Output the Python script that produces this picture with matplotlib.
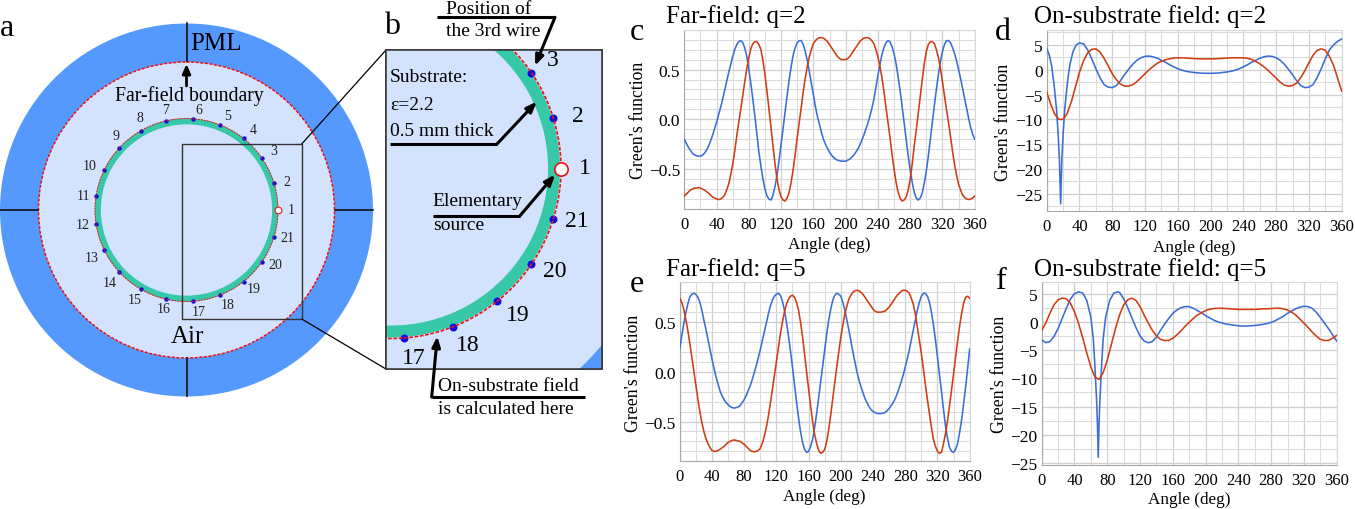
import numpy as np
import matplotlib
matplotlib.use('Agg')
import matplotlib.pyplot as plt
from matplotlib.patches import Circle, Rectangle

plt.rcParams['font.family'] = ['Liberation Serif', 'DejaVu Sans']
plt.rcParams['axes.unicode_minus'] = True

W, H = 1355, 510
BLUE = '#3a6ed6'
RED = '#d13c12'
PML = '#5599ff'
AIR = '#d3e3fd'
SUB = '#37c8a8'

ANGLES = np.arange(0, 361, 5)
ANGLES_FINE = np.arange(0, 360.1, 2.5)
X_TICKS = np.arange(0, 361, 40)

c_blue = [-.20, -.24, -.28, -.31, -.34, -.355, -.365, -.37, -.37, -.36, -.34, -.31, -.27, -.22, -.16, -.095, -.03, .045,
          .12, .20, .29, .38, .47, .55, .63, .70, .75, .78, .79, .77, .715, .63, .50, .36, .20, .03, -.15, -.33, -.47,
          -.60, -.70, -.77, -.80, -.81, -.76, -.67, -.56, -.41, -.25, -.09, .08, .24, .40, .53, .65, .72, .77, .79, .79,
          .75, .68, .59, .48, .36, .25, .13, .03, -.05, -.13, -.20, -.25, -.29, -.33, -.36, -.38, -.40, -.41, -.415, -.42,
          -.42, -.42, -.41, -.40, -.38, -.36, -.33, -.30, -.26, -.21, -.16, -.10, -.04, .03, .11, .20, .32, .44, .55, .65,
          .72, .77, .79, .78, .73, .66, .56, .43, .29, .13, -.03, -.20, -.36, -.51, -.63, -.73, -.79, -.81, -.79, -.74,
          -.64, -.52, -.37, -.20, -.03, .14, .30, .45, .58, .68, .75, .79, .79, .77, .72, .66, .59, .50, .41, .31, .21,
          .11, .01, -.08, -.15, -.20]
c_red = [-.77, -.75, -.73, -.71, -.70, -.69, -.69, -.685, -.69, -.70, -.71, -.725, -.74, -.76, -.78, -.79, -.80, -.805,
         -.80, -.785, -.76, -.71, -.65, -.56, -.45, -.32, -.17, -.03, .10, .24, .38, .51, .62, .71, .76, .78, .78, .75,
         .70, .59, .45, .28, .10, -.09, -.27, -.45, -.60, -.71, -.78, -.81, -.82, -.79, -.73, -.63, -.50, -.35, -.18,
         -.03, .12, .28, .42, .53, .63, .70, .76, .79, .81, .82, .82, .815, .80, .78, .75, .72, .69, .66, .63, .61, .60,
         .60, .60, .61, .63, .66, .69, .72, .75, .78, .80, .815, .82, .82, .81, .79, .76, .70, .63, .53, .42, .28, .12,
         -.03, -.18, -.35, -.50, -.63, -.73, -.79, -.82, -.81, -.78, -.71, -.60, -.45, -.27, -.11, .06, .23, .40, .56,
         .68, .75, .78, .78, .76, .70, .62, .51, .38, .24, .10, -.03, -.17, -.32, -.45, -.56, -.65, -.71, -.76, -.785,
         -.80, -.805, -.80, -.79, -.77]

e_blue = [.23, .36, .48, .59, .68, .75, .78, .79, .78, .75, .70, .62, .52, .43, .33, .23, .13, .04, -.05, -.12, -.19, -.24,
          -.28, -.31, -.33, -.35, -.36, -.365, -.36, -.355, -.34, -.31, -.28, -.24, -.19, -.14, -.08, -.01, .06, .14, .22,
          .31, .40, .49, .58, .66, .72, .76, .78, .79, .77, .71, .62, .50, .36, .21, .05, -.13, -.30, -.46, -.60, -.71,
          -.78, -.81, -.80, -.75, -.68, -.56, -.42, -.26, -.10, .06, .22, .38, .52, .63, .72, .77, .79, .78, .76, .70, .62,
          .52, .42, .31, .20, .10, .0, -.08, -.15, -.21, -.27, -.31, -.35, -.38, -.40, -.41, -.42, -.42, -.42, -.415, -.41,
          -.39, -.37, -.34, -.31, -.27, -.22, -.16, -.10, -.03, .05, .13, .22, .32, .42, .52, .62, .70, .76, .79, .79, .76,
          .70, .60, .47, .32, .15, -.03, -.20, -.38, -.55, -.67, -.76, -.80, -.81, -.78, -.72, -.61, -.48, -.32, -.15, .04,
          .23]
e_red = [.74, .70, .63, .53, .42, .29, .15, .01, -.13, -.27, -.40, -.51, -.60, -.67, -.72, -.76, -.79, -.80, -.80, -.79,
         -.78, -.765, -.75, -.73, -.71, -.70, -.69, -.685, -.69, -.695, -.70, -.715, -.73, -.75, -.77, -.79, -.80, -.805,
         -.80, -.79, -.77, -.72, -.65, -.56, -.45, -.32, -.18, -.04, .10, .24, .38, .50, .60, .68, .73, .76, .77, .75, .70,
         .62, .50, .35, .18, .0, -.17, -.34, -.50, -.63, -.72, -.79, -.82, -.81, -.78, -.70, -.58, -.43, -.27, -.11, .05,
         .20, .35, .47, .58, .66, .73, .77, .80, .815, .82, .815, .80, .78, .75, .72, .69, .66, .63, .61, .60, .60, .60,
         .605, .61, .63, .65, .68, .71, .74, .77, .79, .81, .82, .82, .81, .79, .74, .68, .58, .45, .32, .18, .03, -.13,
         -.28, -.42, -.56, -.68, -.75, -.80, -.82, -.81, -.72, -.62, -.49, -.34, -.18, -.02, .15, .31, .46, .59, .69, .75,
         .76, .74]

d_blue_angles = [0, 3, 6, 9, 12, 14, 15.5, 17, 18.5, 20, 22, 25, 28, 32, 36, 40, 45, 50, 55, 60, 65, 70, 75, 80, 85, 90,
                 95, 100, 105, 110, 115, 120, 125, 130, 135, 140, 145, 150, 155, 160, 165, 170, 175, 180, 185, 190, 195,
                 200, 205, 210, 215, 220, 225, 230, 235, 240, 245, 250, 255, 260, 265, 270, 275, 280, 285, 290, 295, 300,
                 305, 310, 315, 320, 325, 330, 335, 340, 345, 350, 355, 360]
d_blue = [4.3, 3, .8, -3, -8, -13, -18, -27, -18, -13, -8, -3, .8, 3.6, 5, 5.4, 5.2, 4, 2.2, .2, -1.6, -3, -3.5, -3.6, -3.2,
          -2.2, -1, .1, 1.1, 1.9, 2.4, 2.7, 2.75, 2.6, 2.3, 1.9, 1.5, 1, .6, .2, -.1, -.3, -.45, -.55, -.65, -.7, -.72,
          -.72, -.7, -.65, -.55, -.45, -.3, -.1, .2, .6, 1, 1.5, 1.9, 2.3, 2.6, 2.75, 2.7, 2.4, 1.9, 1.1, .1, -1, -2.2,
          -3.2, -3.6, -3.5, -3, -1.6, .2, 2.2, 4, 5, 5.7, 6.2]
d_red = [-4.5, -7, -9, -10, -10, -8.8, -6.5, -3.5, -.5, 1.8, 3.4, 4.1, 4.2, 3.6, 2.3, .8, -.8, -2, -2.9, -3.3, -3.3, -3,
         -2.4, -1.6, -.8, 0, .7, 1.3, 1.7, 2, 2.2, 2.35, 2.4, 2.4, 2.35, 2.3, 2.25, 2.2, 2.2, 2.2, 2.2, 2.2, 2.25, 2.3,
         2.35, 2.4, 2.4, 2.4, 2.4, 2.3, 2.1, 1.7, 1.2, .6, -.1, -.9, -1.7, -2.5, -3.1, -3.3, -3.2, -2.7, -1.6, -.2, 1.4,
         2.9, 3.9, 4.2, 3.9, 2.7, .9, -1.7, -4.3]

f_blue_angles = [0, 5, 10, 15, 20, 25, 30, 35, 40, 45, 50, 55, 60, 63, 65, 67, 68, 69, 70, 71, 73, 75, 78, 83, 88, 93, 95,
                 100, 105, 110, 115, 120, 125, 130, 135, 140, 145, 150, 155, 160, 165, 170, 175, 180, 185, 190, 195, 200,
                 205, 210, 215, 220, 225, 230, 235, 240, 245, 250, 255, 260, 265, 270, 275, 280, 285, 290, 295, 300, 305,
                 310, 315, 320, 325, 330, 335, 340, 345, 350, 355, 360]
f_blue = [-3.2, -3.7, -3.5, -2.6, -1.2, .6, 2.4, 4, 5, 5.3, 5.1, 3.8, .8, -3, -8, -14, -18, -24, -18, -14, -8, -3, .8, 3.8,
          5.1, 5.3, 5.2, 4.1, 2.5, .7, -1, -2.5, -3.4, -3.7, -3.5, -2.7, -1.5, -.4, .6, 1.5, 2.1, 2.5, 2.7, 2.7, 2.4, 2,
          1.6, 1.1, .7, .3, 0, -.2, -.4, -.5, -.6, -.7, -.75, -.75, -.7, -.65, -.55, -.45, -.3, -.1, .2, .6, 1, 1.5, 1.9,
          2.3, 2.6, 2.75, 2.7, 2.4, 1.7, .8, -.2, -1.2, -2.3, -3.4]
f_red = [-1.5, -.2, 1.5, 3, 3.9, 4.2, 4.1, 3.3, 1.8, -.3, -2.8, -5.5, -8, -9.8, -10.2, -9, -6.8, -4, -1.2, 1.2, 3, 3.9, 4.2,
         3.8, 2.7, 1.2, -.2, -1.5, -2.5, -3.1, -3.3, -3.3, -2.9, -2.3, -1.6, -.8, -.1, .6, 1.2, 1.6, 2, 2.25, 2.35, 2.4,
         2.4, 2.35, 2.3, 2.25, 2.2, 2.2, 2.2, 2.2, 2.2, 2.25, 2.3, 2.3, 2.35, 2.4, 2.4, 2.3, 2.1, 1.7, 1.2, .5, -.2, -1,
         -1.8, -2.5, -3.1, -3.3, -3.3, -2.9, -2.4]

# wire number labels, pixel positions
a_label_xy = [(291, 211), (287, 183), (274, 152), (253, 131), (228, 116), (199, 110), (166, 110), (140, 118), (116, 137),
              (90, 167), (83, 197), (83, 226), (92, 259), (110, 284), (135, 301), (164, 310), (199, 313), (228, 306),
              (254, 290), (275, 266), (287, 239)]
b_labels = ['3', '2', '1', '21', '20', '19', '18', '17']
b_label_xy = [(553, 61), (578, 117), (585, 169), (577, 222), (555, 272), (518, 316), (468, 346), (414, 359)]


def add_axes_px(fig, x0, y0, x1, y1):
    return fig.add_axes([x0 / W, 1 - y1 / H, (x1 - x0) / W, (y1 - y0) / H])


def field_panel(fig, box, ylim, yticks, yminor, blue, red, title, title_xy, xlabel_xy, ylabel_xy, tick_pad):
    ax = add_axes_px(fig, *box)
    x0, y0, x1, y1 = box
    ax.plot(blue[0], blue[1], color=BLUE, lw=1.15, zorder=3)
    ax.plot(red[0], red[1], color=RED, lw=1.15, zorder=4)
    ax.set_xlim(0, 360)
    ax.set_ylim(*ylim)
    ax.set_xticks(X_TICKS)
    ax.set_xticks(np.arange(0, 361, 20), minor=True)
    ax.set_yticks(yticks)
    ax.set_yticks(yminor, minor=True)
    ax.grid(True, which='major', color='#cfcfcf', lw=0.9)
    ax.grid(True, which='minor', color='#dcdcdc', lw=0.8)
    ax.set_axisbelow(True)
    ax.tick_params(which='both', length=0)
    ax.tick_params(axis='x', labelsize=12, pad=tick_pad)
    ax.tick_params(axis='y', labelsize=12.5, pad=3)
    for s in ax.spines.values():
        s.set_color('#d8d8d8')
        s.set_linewidth(0.8)
    ax.spines['left'].set_color('#a8a8a8')
    ax.spines['bottom'].set_color('#a8a8a8')
    ax.set_title(title, fontsize=18, x=(title_xy[0] - x0) / (x1 - x0), y=(y1 - title_xy[1]) / (y1 - y0),
                 ha='left', va='center', pad=0)
    ax.set_xlabel('Angle (deg)', fontsize=12.3)
    ax.xaxis.set_label_coords((xlabel_xy[0] - x0) / (x1 - x0), (y1 - xlabel_xy[1]) / (y1 - y0))
    ax.xaxis.label.set_va('center')
    ax.set_ylabel("Green's function", fontsize=12.8)
    ax.yaxis.set_label_coords((ylabel_xy[0] - x0) / (x1 - x0), (y1 - ylabel_xy[1]) / (y1 - y0))
    ax.yaxis.label.set_va('center')
    return ax


def arrow(ov, pts, lw=2.2, scale=11):
    # underline + leader with a filled head at the last point
    xs, ys = zip(*pts[:-1])
    ov.plot(xs, ys, color='black', lw=lw, solid_capstyle='butt', solid_joinstyle='miter', zorder=20)
    ov.annotate('', xy=pts[-1], xytext=pts[-2], zorder=20,
                arrowprops=dict(arrowstyle='-|>,head_width=0.22,head_length=0.55', color='black', lw=lw,
                                shrinkA=0, shrinkB=0, mutation_scale=scale))


fig = plt.figure(figsize=(W / 100, H / 100), dpi=100)
ov = fig.add_axes([0, 0, 1, 1], zorder=5)
ov.set_xlim(0, W)
ov.set_ylim(H, 0)
ov.axis('off')
ov.patch.set_alpha(0)

# panel a
ax_, ay_ = 186.5, 211
ov.add_patch(Circle((ax_, ay_), 186.5, fc=PML, ec='none'))
ov.add_patch(Circle((ax_, ay_), 148, fc=AIR, ec='none'))
ov.add_patch(Circle((ax_, ay_), 148, fc='none', ec='#f01010', lw=1.1, ls=(0, (2, 1)), zorder=5))
ov.add_patch(Circle((ax_, ay_), 88.7, fc='none', ec=SUB, lw=4.4, zorder=3))
wire_angles = np.deg2rad(np.arange(1, 21) * 360 / 21)
ov.scatter(ax_ + 91.5 * np.cos(wire_angles), ay_ - 91.5 * np.sin(wire_angles), s=10, color='#0a0ae6', zorder=4, linewidths=0)
ov.add_patch(Circle((ax_, ay_), 91.5, fc='none', ec='#f01010', lw=0.7, ls=(0, (2, 1)), zorder=5))
ov.scatter([ax_ + 91.5], [ay_], s=24, fc='white', ec='#f01010', lw=0.8, zorder=9)
for x0, y0, x1, y1 in [(186.5, 24, 186.5, 62), (186.5, 359, 186.5, 397), (0, 211, 38, 211), (335, 211, 373, 211)]:
    ov.plot([x0, x1], [y0, y1], color='#111111', lw=1.2, zorder=6)
ov.annotate('', xy=(186.5, 65), xytext=(186.5, 87), zorder=7,
            arrowprops=dict(arrowstyle='-|>,head_width=0.22,head_length=0.5', color='black', lw=2,
                            shrinkA=0, shrinkB=0, mutation_scale=11))
ov.text(216, 44, 'PML', fontsize=18, ha='center', va='center', zorder=10)
ov.text(189, 96, 'Far-field boundary', fontsize=14.2, ha='center', va='center', zorder=10)
ov.text(187, 337, 'Air', fontsize=18, ha='center', va='center', zorder=10)
for i, (x, y) in enumerate(a_label_xy):
    ov.text(x, y, str(i + 1), fontsize=10, color='#222222', ha='center', va='center', zorder=10)
ov.add_patch(Rectangle((181.7, 145), 120, 175, fc='none', ec='#333333', lw=1, zorder=7))
ov.plot([301.7, 386], [145, 51], color='black', lw=0.9, zorder=7)
ov.plot([301.7, 386], [320, 370], color='black', lw=0.9, zorder=7)

# panel b
bx, by = 391, 169.5
ov.add_patch(Rectangle((386, 51), 215.7, 319, fc=AIR, ec='#333333', lw=1.1, zorder=11))
clip_b = Rectangle((386, 51), 215.7, 319, transform=ov.transData)
pml_b = Circle((bx, by), 400, fc=PML, ec='none', zorder=11.1)
ov.add_patch(pml_b)
pml_b.set_clip_path(clip_b)
air_b = Circle((bx, by), 275, fc=AIR, ec='none', zorder=11.2)
ov.add_patch(air_b)
air_b.set_clip_path(clip_b)
sub_b = Circle((bx, by), 163, fc='none', ec=SUB, lw=8.6, zorder=11.3)
ov.add_patch(sub_b)
sub_b.set_clip_path(clip_b)
ov.add_patch(Rectangle((386, 51), 215.7, 319, fc='none', ec='#333333', lw=1.1, zorder=11.6))
b_angles = np.deg2rad(np.array([2, 1, -1, -2, -3, -4, -5]) * 360 / 21)
ov.scatter(bx + 170 * np.cos(b_angles), by - 170 * np.sin(b_angles), s=33, color='#0a0ae6', zorder=11.4, linewidths=0)
red_b = Circle((bx, by), 170, fc='none', ec='#f01010', lw=1.2, ls=(0, (2.2, 1)), zorder=11.5)
ov.add_patch(red_b)
red_b.set_clip_path(clip_b)
ov.scatter([bx + 170], [by], s=92, fc='white', ec='#f01010', lw=1.2, zorder=13)
for t, (x, y) in zip(b_labels, b_label_xy):
    ov.text(x, y, t, fontsize=17, ha='center', va='center', zorder=14)
ov.text(489, 9, 'Position of', fontsize=14, ha='center', va='center', zorder=14)
ov.text(493, 32, 'the 3rd wire', fontsize=14, ha='center', va='center', zorder=14)
ov.text(390, 77, 'Substrate:', fontsize=14, ha='left', va='center', zorder=14)
ov.text(390, 105, 'ε=2.2', fontsize=14, ha='left', va='center', zorder=14)
ov.text(390, 132, '0.5 mm thick', fontsize=14, ha='left', va='center', zorder=14)
ov.text(432.7, 202, 'Elementary', fontsize=14, ha='left', va='center', zorder=14)
ov.text(432.7, 226, 'source', fontsize=14, ha='left', va='center', zorder=14)
ov.text(508, 387, 'On-substrate field', fontsize=14, ha='center', va='center', zorder=14)
ov.text(505.7, 410, 'is calculated here', fontsize=14, ha='center', va='center', zorder=14)
arrow(ov, [(436.7, 18.3), (555, 18.3), (535, 66.7)])
arrow(ov, [(390, 145), (497, 145), (536.7, 102.7)])
arrow(ov, [(432.7, 216.7), (520, 216.7), (555, 175.7)])
arrow(ov, [(585, 398), (431.7, 398), (437.3, 337.3)])

# panel letters
for t, x, y in [('a', 7, 28), ('b', 392, 27), ('c', 637, 33), ('d', 1003, 33), ('e', 637, 285), ('f', 1001, 282)]:
    ov.text(x, y, t, fontsize=23, ha='center', va='center', zorder=14)

field_panel(fig, (684.3, 30.7, 974.7, 210), (-0.90, 0.90), [-0.5, 0, 0.5], np.arange(-0.9, 0.91, 0.1),
            (ANGLES_FINE, c_blue), (ANGLES_FINE, c_red), 'Far-field: q=2', (665.7, 17), (829, 245), (638, 120), 5)
field_panel(fig, (1046.7, 30.7, 1341.7, 212.3), (-28.5, 8.06), np.arange(-25, 6, 5), np.arange(-27.5, 8, 2.5),
            (d_blue_angles, d_blue), (ANGLES, d_red), 'On-substrate field: q=2', (1034, 17), (1194, 248), (1004, 122), 5)
field_panel(fig, (679.7, 283.3, 969.7, 462.3), (-0.90, 0.90), [-0.5, 0, 0.5], np.arange(-0.9, 0.91, 0.1),
            (ANGLES_FINE, e_blue), (ANGLES_FINE, e_red), 'Far-field: q=5', (665.7, 270), (824.7, 497), (633, 373), 5)
field_panel(fig, (1041.7, 283.3, 1336.7, 465.7), (-25.3, 7), np.arange(-25, 6, 5), np.arange(-25, 7, 2.5),
            (f_blue_angles, f_blue), (ANGLES, f_red), 'On-substrate field: q=5', (1034, 270), (1189, 500), (999, 374), 5)

fig.savefig('out.png', dpi=100)
